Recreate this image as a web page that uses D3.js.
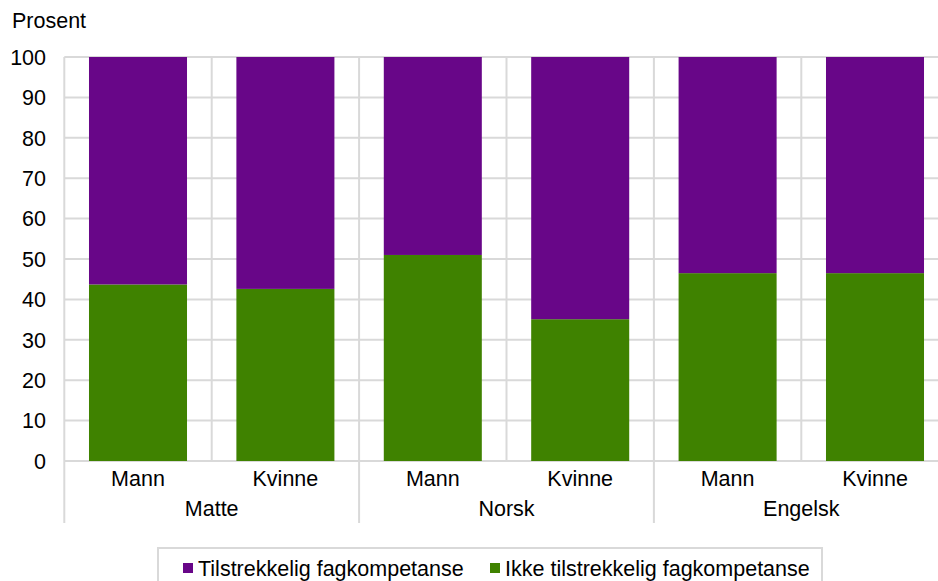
<!DOCTYPE html>
<html>
<head>
<meta charset="utf-8">
<script src="https://cdn.jsdelivr.net/npm/d3@7"></script>
<style>
    body { margin: 0; background: #fff; }
    text { font-family: "Liberation Sans", Arial, sans-serif; fill: #000; }
</style>
</head>
<body>
<div id="chart-ctn"></div>
<script>
// Data
let subjects = ["Matte", "Norsk", "Engelsk"];
let genders = ["Mann", "Kvinne"];
let ikkeValues = [43.7, 42.6, 51.0, 35.1, 46.5, 46.5];
let tilstrekkeligValues = [56.3, 57.4, 49.0, 64.9, 53.5, 53.5];
let yTicks = [0, 10, 20, 30, 40, 50, 60, 70, 80, 90, 100];
let seriesNames = ["Tilstrekkelig fagkompetanse", "Ikke tilstrekkelig fagkompetanse"];
let seriesColors = ["#680688", "#3f8200"];

let width = 938;
let height = 581;
let fontSize = "21.5px";
let gridColor = "#d9d9d9";

let svg = d3.select("#chart-ctn")
    .append("svg")
    .attr("width", width)
    .attr("height", height);

// one entry per bar
let rows = [];
subjects.forEach((s, i) => {
    genders.forEach((g, j) => {
        let k = i * genders.length + j;
        rows.push({
            key: s + "|" + g,
            subject: s,
            gender: g,
            ikke: ikkeValues[k],
            tilstrekkelig: tilstrekkeligValues[k],
        });
    });
});

let x = d3.scaleBand()
    .domain(rows.map((d) => d.key))
    .range([64.3, 948.7])
    .paddingInner(0.335)
    .paddingOuter(0.335 / 2);

let y = d3.scaleLinear().domain([0, 100]).range([461, 57]);

let step = x.step();
let bandStart = (d) => x(d.key) - (step * x.paddingInner()) / 2;

// horizontal gridlines
svg.append("g")
    .selectAll("line")
    .data(yTicks)
    .join("line")
    .attr("x1", x.range()[0])
    .attr("x2", x.range()[1])
    .attr("y1", (d) => y(d))
    .attr("y2", (d) => y(d))
    .attr("stroke", gridColor)
    .attr("stroke-width", 2);

// vertical gridlines at band edges; group edges run down through the labels
let edges = rows.map((d, i) => ({ x: bandStart(d), group: i % genders.length === 0 }));
svg.append("g")
    .selectAll("line")
    .data(edges)
    .join("line")
    .attr("x1", (d) => d.x)
    .attr("x2", (d) => d.x)
    .attr("y1", y(100))
    .attr("y2", (d) => (d.group ? 523 : y(0)))
    .attr("stroke", gridColor)
    .attr("stroke-width", 2);

// stacked bars
let stacked = d3.stack().keys(["ikke", "tilstrekkelig"])(rows);
let colorOf = { ikke: seriesColors[1], tilstrekkelig: seriesColors[0] };

svg.append("g")
    .selectAll("g")
    .data(stacked)
    .join("g")
    .attr("fill", (s) => colorOf[s.key])
    .selectAll("rect")
    .data((s) => s)
    .join("rect")
    .attr("x", (d) => x(d.data.key))
    .attr("width", x.bandwidth())
    .attr("y", (d) => y(d[1]))
    .attr("height", (d) => y(d[0]) - y(d[1]));

// y tick labels
svg.append("g")
    .selectAll("text")
    .data(yTicks)
    .join("text")
    .attr("x", 46)
    .attr("y", (d) => y(d))
    .attr("dy", "0.36em")
    .attr("text-anchor", "end")
    .style("font-size", fontSize)
    .text((d) => d);

svg.append("text")
    .attr("x", 12)
    .attr("y", 28)
    .style("font-size", fontSize)
    .text("Prosent");

// gender labels
svg.append("g")
    .selectAll("text")
    .data(rows)
    .join("text")
    .attr("x", (d) => x(d.key) + x.bandwidth() / 2)
    .attr("y", 486)
    .attr("text-anchor", "middle")
    .style("font-size", fontSize)
    .text((d) => d.gender);

// subject labels, centred on each pair of bars
svg.append("g")
    .selectAll("text")
    .data(subjects)
    .join("text")
    .attr("x", (s) => {
        let first = x(s + "|" + genders[0]);
        let last = x(s + "|" + genders[genders.length - 1]) + x.bandwidth();
        return (first + last) / 2;
    })
    .attr("y", 516)
    .attr("text-anchor", "middle")
    .style("font-size", fontSize)
    .text((s) => s);

// legend
let legend = svg.append("g");
legend.append("rect")
    .attr("x", 158)
    .attr("y", 548)
    .attr("width", 664)
    .attr("height", 50)
    .attr("fill", "#fff")
    .attr("stroke", gridColor)
    .attr("stroke-width", 2);

let legendX = [183, 490];
let item = legend.selectAll("g.item")
    .data(seriesNames)
    .join("g")
    .attr("class", "item")
    .attr("transform", (d, i) => `translate(${legendX[i]}, 0)`);

item.append("rect")
    .attr("x", 0)
    .attr("y", 563)
    .attr("width", 10)
    .attr("height", 10)
    .attr("fill", (d, i) => seriesColors[i]);

item.append("text")
    .attr("x", 15)
    .attr("y", 576)
    .style("font-size", fontSize)
    .text((d) => d);
</script>
</body>
</html>
